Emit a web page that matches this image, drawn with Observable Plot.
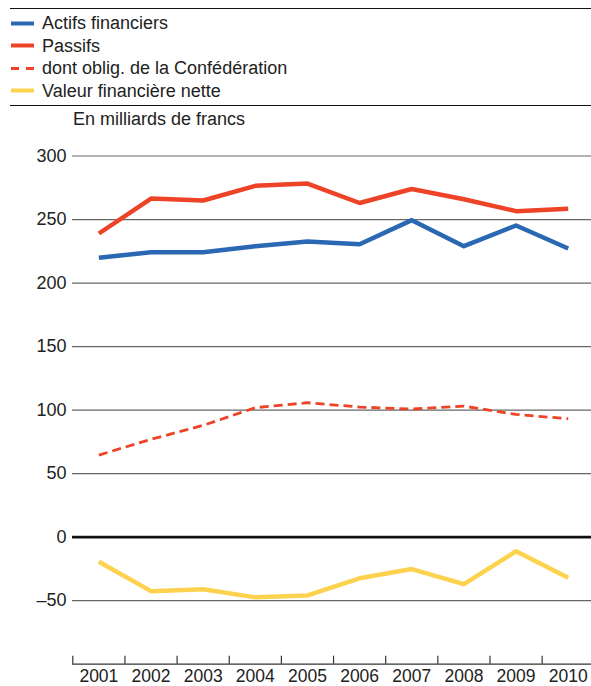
<!DOCTYPE html>
<html>
<head>
<meta charset="utf-8">
<script src="https://cdn.jsdelivr.net/npm/d3@7"></script>
<script src="https://cdn.jsdelivr.net/npm/@observablehq/plot@0.6"></script>
<style>
  body { margin: 0; background: #fff; font-family: "Liberation Sans", Arial, sans-serif; color: #222; }
  #wrap { width: 591px; position: relative; }
  #head { position: relative; height: 130px; width: 591px; }
  .rule { position: absolute; left: 10px; right: 0; height: 1.5px; background: #111; }
  .row { position: absolute; left: 0; height: 22px; line-height: 22px; font-size: 18px; white-space: nowrap; }
  .row svg { position: absolute; left: 11px; top: 8.5px; }
  .row span { position: absolute; left: 42px; top: 0; }
  #title { position: absolute; left: 73px; top: 108px; font-size: 18px; line-height: 22px; white-space: nowrap; }
</style>
</head>
<body>
<div id="wrap">
  <div id="head"></div>
  <div id="chart"></div>
</div>
<script>
const years   = [2001, 2002, 2003, 2004, 2005, 2006, 2007, 2008, 2009, 2010];
const actifs  = [220, 224.3, 224.3, 229, 232.7, 230.6, 249.5, 229, 245.3, 227.2];
const passifs = [239, 266.5, 265, 276.5, 278.3, 263, 274, 266, 256.6, 258.4];
const oblig   = [64.6, 77, 88, 101.9, 105.8, 102.4, 100.8, 103.1, 96.6, 93.2];
const nette   = [-19.4, -42.5, -41, -47.4, -45.9, -32.4, -25.1, -37, -11.1, -31.9];
const yTicks  = [-50, 0, 50, 100, 150, 200, 250, 300];
const seriesNames = ["Actifs financiers", "Passifs", "dont oblig. de la Confédération", "Valeur financière nette"];
const colors = { blue: "#2a68b4", red: "#ee4327", yellow: "#fdd24e" };
const unitTitle = "En milliards de francs";

// Legend (HTML)
const head = document.getElementById("head");
const legendStyles = [
  { color: colors.blue, dash: null, w: 4 },
  { color: colors.red, dash: null, w: 4 },
  { color: colors.red, dash: "8 7", w: 3 },
  { color: colors.yellow, dash: null, w: 4 }
];
let html = '<div class="rule" style="top:7.5px"></div>';
seriesNames.forEach((name, i) => {
  const s = legendStyles[i];
  const top = 12 + i * 22.6;
  html += `<div class="row" style="top:${top}px"><svg width="23" height="5"><line x1="0" x2="23" y1="2.5" y2="2.5" stroke="${s.color}" stroke-width="${s.w}"${s.dash ? ` stroke-dasharray="${s.dash}"` : ""}/></svg><span>${name}</span></div>`;
});
html += '<div class="rule" style="top:104.5px"></div>';
html += `<div id="title">${unitTitle}</div>`;
head.innerHTML = html;

const mk = (vals) => years.map((y, i) => ({ year: y, value: vals[i] }));
const boundaries = years.map(y => y - 0.5);

const chart = Plot.plot({
  width: 591,
  height: 556,
  marginLeft: 72,
  marginRight: 0,
  marginTop: 25.5,
  marginBottom: 22.3,
  style: { fontFamily: "Liberation Sans, Arial, sans-serif", fontSize: "18px", color: "#222", background: "white", overflow: "visible" },
  x: { domain: [2000.5, 2010.5], range: [72.3, 593.8], label: null },
  y: { domain: [-100, 300], label: null },
  marks: [
    Plot.ruleY(yTicks.filter(d => d !== 0), { stroke: "#666", strokeWidth: 1.2 }),
    Plot.ruleY([0], { stroke: "#111", strokeWidth: 2.6 }),
    Plot.ruleY([-100], { stroke: "#333", strokeWidth: 1.2 }),
    Plot.axisY({ ticks: yTicks, tickSize: 0, tickPadding: 6, label: null, tickFormat: d => d < 0 ? "\u2013" + Math.abs(d) : String(d), fontSize: 18, fill: "#222" }),
    Plot.axisX({ ticks: boundaries, tickSize: 8, tickFormat: () => "", label: null, dy: -8, stroke: "#333", strokeWidth: 1.2 }),
    Plot.axisX({ ticks: years, tickSize: 0, tickPadding: 5, label: null, tickFormat: d => String(d), fontSize: 17.5, fill: "#222" }),
    Plot.line(mk(oblig), { x: "year", y: "value", stroke: colors.red, strokeWidth: 2.8, strokeDasharray: "9 5", strokeLinecap: "butt" }),
    Plot.line(mk(nette), { x: "year", y: "value", stroke: colors.yellow, strokeWidth: 4.5, strokeLinecap: "butt" }),
    Plot.line(mk(actifs), { x: "year", y: "value", stroke: colors.blue, strokeWidth: 4.5, strokeLinecap: "butt" }),
    Plot.line(mk(passifs), { x: "year", y: "value", stroke: colors.red, strokeWidth: 4.5, strokeLinecap: "butt" })
  ]
});
document.getElementById("chart").appendChild(chart);
</script>
</body>
</html>
